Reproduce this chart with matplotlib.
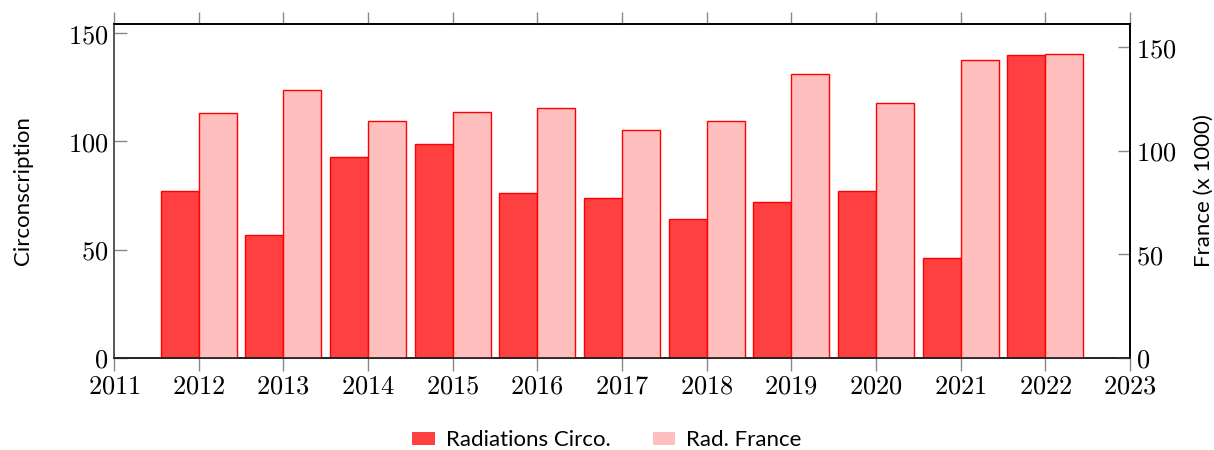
import matplotlib.pyplot as plt
import numpy as np
from matplotlib.patches import Patch

years = [2012, 2013, 2014, 2015, 2016, 2017, 2018, 2019, 2020, 2021, 2022]
circo = [77, 57, 93, 99, 76, 74, 64, 72, 77, 46, 140]
france = [118.2, 129.3, 114.3, 118.7, 120.6, 110.0, 114.3, 137.0, 123.0, 143.8, 146.6]

plt.rcParams['mathtext.fontset'] = 'cm'
red = '#ff4040'
pink = '#ffbfbf'
gray = '#888888'

fig = plt.figure(figsize=(12.14, 4.5), dpi=100)
ax = fig.add_axes([114 / 1214, 92 / 450, 1016 / 1214, 334 / 450])
ax2 = ax.twinx()

x = np.array(years)
w = 0.45
ax.bar(x - w / 2, circo, width=w, color=red, edgecolor='#ff0000', linewidth=1)
ax2.bar(x + w / 2, france, width=w, color=pink, edgecolor='#ff0000', linewidth=1)

ax.set_xlim(2011, 2023)
ax.set_ylim(0, 154.2)
ax2.set_ylim(0, 161.1)

xt = list(range(2011, 2024))
ax.set_xticks(xt)
ax.set_xticklabels([f'${v}$' for v in xt], fontsize=19)
ax.set_yticks([0, 50, 100, 150])
ax.set_yticklabels([f'${v}$' for v in [0, 50, 100, 150]], fontsize=19)
ax2.set_yticks([0, 50, 100, 150])
ax2.set_yticklabels([f'${v}$' for v in [0, 50, 100, 150]], fontsize=19)

ax.tick_params(axis='x', direction='out', length=9, color=gray, top=True,
               width=1, pad=2)
ax.tick_params(axis='y', direction='in', length=9, color=gray, width=1, pad=4)
ax2.tick_params(axis='y', direction='in', length=9, color=gray, width=1, pad=4)

for a in (ax, ax2):
    a.spines['left'].set_color('#555555')
    a.spines['right'].set_color('black')
    a.spines['top'].set_color('black')
    a.spines['bottom'].set_color('#222222')
    for s in a.spines.values():
        s.set_linewidth(1.2)

ax.set_ylabel('Circonscription', fontfamily='Lato', fontsize=16, labelpad=25)
ax2.set_ylabel('France (x 1000)', fontfamily='Lato', fontsize=16, labelpad=13)

handles = [Patch(facecolor=red, edgecolor='none', label='Radiations Circo.'),
           Patch(facecolor=pink, edgecolor='none', label='Rad. France')]
fig.legend(handles=handles, loc='lower center', bbox_to_anchor=(0.5, -0.045),
           ncol=2, frameon=False, prop={'family': 'Lato', 'size': 16},
           handlelength=1.0, handleheight=0.55, handletextpad=0.5,
           columnspacing=1.9)

fig.savefig('out.png', dpi=100)
